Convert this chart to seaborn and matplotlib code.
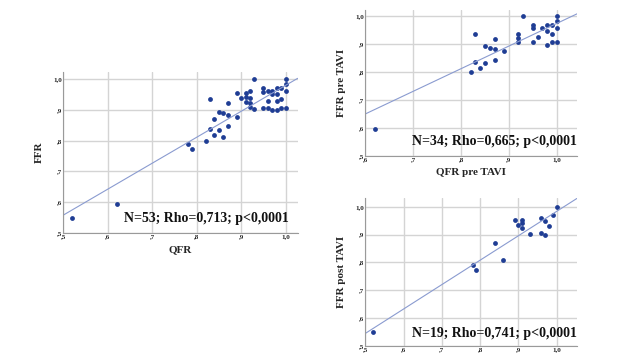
import numpy as np
import pandas as pd
import matplotlib
matplotlib.use("Agg")
import matplotlib.pyplot as plt
from matplotlib.ticker import FuncFormatter, MultipleLocator
import seaborn as sns

# --- data ---
qfr_all = [0.52, 0.62, 0.78, 0.79, 0.82, 0.83, 0.83, 0.84, 0.84, 0.85, 0.85, 0.86, 0.86,
           0.87, 0.87, 0.87, 0.89, 0.89, 0.90, 0.91, 0.91, 0.91, 0.92, 0.92, 0.92, 0.92,
           0.93, 0.93, 0.95, 0.95, 0.95, 0.96, 0.96, 0.96, 0.97, 0.97, 0.97, 0.98, 0.98,
           0.98, 0.98, 0.99, 0.99, 0.99, 1.00, 1.00, 1.00, 1.00]
ffr_all = [0.55, 0.595, 0.79, 0.772, 0.80, 0.935, 0.838, 0.871, 0.817, 0.894, 0.833, 0.888, 0.811,
           0.921, 0.884, 0.847, 0.955, 0.877, 0.937, 0.953, 0.943, 0.925, 0.961, 0.937, 0.923, 0.910,
           1.00, 0.902, 0.970, 0.957, 0.907, 0.96, 0.927, 0.905, 0.96, 0.95, 0.90, 0.97, 0.95,
           0.93, 0.90, 0.97, 0.935, 0.905, 1.00, 0.984, 0.961, 0.907]

qfr_pre = [0.62, 0.82, 0.83, 0.83, 0.84, 0.85, 0.85, 0.86, 0.87, 0.87, 0.87, 0.89, 0.92,
           0.92, 0.92, 0.93, 0.95, 0.95, 0.95, 0.96, 0.97, 0.98, 0.98, 0.98, 0.99, 0.99,
           0.99, 1.00, 1.00, 1.00, 1.00]
ffr_pre = [0.597, 0.80, 0.934, 0.836, 0.815, 0.893, 0.833, 0.884, 0.919, 0.881, 0.844, 0.875, 0.936,
           0.92, 0.907, 0.998, 0.969, 0.955, 0.905, 0.925, 0.958, 0.968, 0.946, 0.896, 0.969, 0.934,
           0.905, 1.00, 0.981, 0.958, 0.905]

qfr_post = [0.52, 0.78, 0.79, 0.84, 0.86, 0.89, 0.90, 0.91, 0.91, 0.91, 0.93, 0.96, 0.96,
            0.97, 0.97, 0.98, 0.99, 1.00]
ffr_post = [0.549, 0.789, 0.771, 0.870, 0.809, 0.953, 0.936, 0.953, 0.941, 0.924, 0.902, 0.958, 0.904,
            0.948, 0.899, 0.929, 0.970, 1.00]

stats_all = "N=53; Rho=0,713; p<0,0001"
stats_pre = "N=34; Rho=0,665; p<0,0001"
stats_post = "N=19; Rho=0,741; p<0,0001"

sns.set_theme(style="white")
plt.rcParams['font.family'] = ['Liberation Serif', 'DejaVu Serif']

DOT = "#1f3d94"
LINE = "#8a9bd0"


def comma_fmt(v, pos):
    s = f"{v:.1f}".replace(".", ",")
    return s[1:] if s.startswith("0") else s


def panel(ax, x, y, xlim, ylim, xlabel, ylabel, note, note_xy):
    ax.set_xlim(xlim)
    ax.set_ylim(ylim)
    df = pd.DataFrame({"x": x, "y": y})
    sns.regplot(data=df, x="x", y="y", ax=ax, ci=None, truncate=False,
                scatter_kws=dict(s=12, color=DOT, linewidths=0, alpha=1),
                line_kws=dict(color=LINE, lw=0.8))
    ax.set_xlim(xlim)
    ax.set_ylim(ylim)
    ax.xaxis.set_major_locator(MultipleLocator(0.1))
    ax.yaxis.set_major_locator(MultipleLocator(0.1))
    ax.xaxis.set_major_formatter(FuncFormatter(comma_fmt))
    ax.yaxis.set_major_formatter(FuncFormatter(comma_fmt))
    ax.grid(True, color="#d4d4d4", lw=1.0)
    ax.set_axisbelow(True)
    for s in ["top", "right"]:
        ax.spines[s].set_visible(False)
    for s in ["left", "bottom"]:
        ax.spines[s].set_color("#9a9a9a")
        ax.spines[s].set_linewidth(0.8)
    ax.tick_params(axis="both", labelsize=5, pad=1, length=0)
    for lab in ax.get_xticklabels() + ax.get_yticklabels():
        lab.set_fontweight("bold")
    ax.set_xlabel(xlabel, fontsize=8, fontweight="bold", labelpad=4)
    ax.set_ylabel(ylabel, fontsize=8, fontweight="bold", labelpad=7)
    ax.text(note_xy[0], note_xy[1], note, transform=ax.transAxes, ha="right",
            va="center", fontsize=10, fontweight="bold", color="#111111")


fig = plt.figure(figsize=(6.4, 3.6), dpi=100)
ax1 = fig.add_axes([0.099, 0.353, 0.366, 0.448])
ax2 = fig.add_axes([0.571, 0.5675, 0.331, 0.405])
ax3 = fig.add_axes([0.571, 0.0397, 0.331, 0.41])

panel(ax1, qfr_all, ffr_all, (0.5, 1.027), (0.5, 1.024), "QFR", "FFR",
      stats_all, (0.964, 0.087))
panel(ax2, qfr_pre, ffr_pre, (0.6, 1.043), (0.5, 1.0215), "QFR pre TAVI", "FFR pre TAVI",
      stats_pre, (0.997, 0.096))
panel(ax3, qfr_post, ffr_post, (0.5, 1.054), (0.5, 1.031), "", "FFR post TAVI",
      stats_post, (0.997, 0.084))

fig.savefig("out.png", dpi=100)
